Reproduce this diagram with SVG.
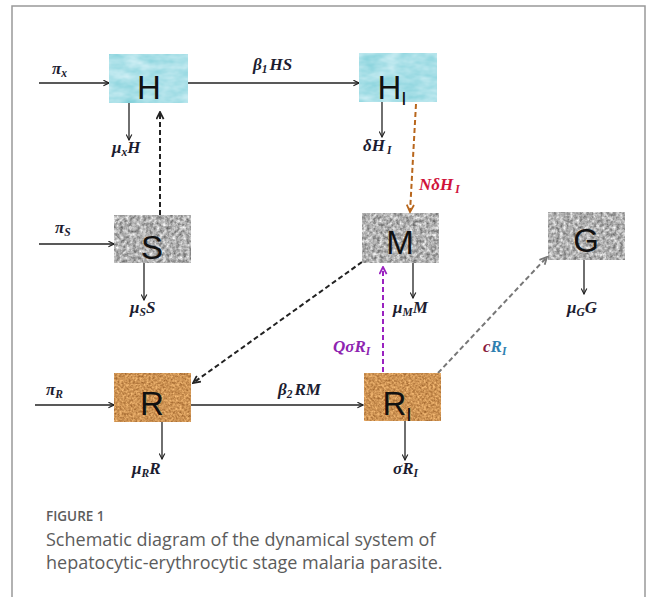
<svg xmlns="http://www.w3.org/2000/svg" width="656" height="597" viewBox="0 0 656 597">
<defs>
<style>
.box-lbl{font-family:"Liberation Sans",Arial,sans-serif;font-size:33px;fill:#111}
.sub-lbl{font-size:19px}
.m{font-family:"Liberation Serif","Times New Roman",serif;font-style:italic;font-weight:bold;font-size:17px;fill:#1c1c30}
.s{font-size:11.5px}
.ln{stroke:#222;stroke-width:1.3;fill:none;marker-end:url(#ah)}
.dk{stroke:#222;stroke-width:2;stroke-dasharray:5,3;fill:none;marker-end:url(#ahd)}
.cap{font-family:"Open Sans","Liberation Sans",sans-serif;fill:#5c5c5c}
</style>
<marker id="ah" viewBox="0 0 10 10" refX="9" refY="5" markerWidth="7" markerHeight="7" markerUnits="userSpaceOnUse" orient="auto"><path d="M1,1 L9,5 L1,9" fill="none" stroke="#222" stroke-width="1.6"/></marker>
<marker id="ahd" viewBox="0 0 10 10" refX="9" refY="5" markerWidth="9" markerHeight="9" markerUnits="userSpaceOnUse" orient="auto"><path d="M1,1 L9,5 L1,9" fill="none" stroke="#222" stroke-width="2"/></marker>
<marker id="aho" viewBox="0 0 10 10" refX="9" refY="5" markerWidth="9" markerHeight="9" markerUnits="userSpaceOnUse" orient="auto"><path d="M1,1 L9,5 L1,9" fill="none" stroke="#b8661c" stroke-width="2"/></marker>
<marker id="ahp" viewBox="0 0 10 10" refX="9" refY="5" markerWidth="9" markerHeight="9" markerUnits="userSpaceOnUse" orient="auto"><path d="M1,1 L9,5 L1,9" fill="none" stroke="#9a22c0" stroke-width="2"/></marker>
<marker id="ahg" viewBox="0 0 10 10" refX="9" refY="5" markerWidth="9" markerHeight="9" markerUnits="userSpaceOnUse" orient="auto"><path d="M1,1 L9,5 L1,9" fill="none" stroke="#777" stroke-width="2"/></marker>
<filter id="granite" x="0" y="0" width="1" height="1" color-interpolation-filters="sRGB">
<feTurbulence type="fractalNoise" baseFrequency="0.3" numOctaves="3" seed="4" result="n"/>
<feColorMatrix in="n" type="matrix" values="0.8 0 0 0 0.29  0.8 0 0 0 0.29  0.8 0 0 0 0.29  0 0 0 0 1" result="c"/>
<feComposite in="c" in2="SourceGraphic" operator="in"/>
</filter>
<filter id="cork" x="0" y="0" width="1" height="1" color-interpolation-filters="sRGB">
<feTurbulence type="fractalNoise" baseFrequency="0.45" numOctaves="3" seed="7" result="n"/>
<feColorMatrix in="n" type="matrix" values="0.5 0 0 0 0.56  0.5 0 0 0 0.33  0.42 0 0 0 0.12  0 0 0 0 1" result="c"/>
<feComposite in="c" in2="SourceGraphic" operator="in"/>
</filter>
<filter id="ice" x="0" y="0" width="1" height="1" color-interpolation-filters="sRGB">
<feTurbulence type="fractalNoise" baseFrequency="0.05 0.1" numOctaves="3" seed="2" result="n"/>
<feColorMatrix in="n" type="matrix" values="0.4 0 0 0 0.47  0.16 0 0 0 0.8  0.14 0 0 0 0.84  0 0 0 0 1" result="c"/>
<feComposite in="c" in2="SourceGraphic" operator="in"/>
</filter>
</defs>
<rect x="0" y="0" width="656" height="597" fill="#fff"/>
<rect x="12" y="6" width="633" height="600" fill="none" stroke="#999" stroke-width="1.5"/>

<g id="connectors">
<line class="ln" x1="39" y1="83" x2="109" y2="83"/>
<line class="ln" x1="188" y1="83" x2="359" y2="83"/>
<line class="ln" x1="129" y1="103" x2="129" y2="140"/>
<line class="dk" x1="160" y1="215" x2="160" y2="112"/>
<line class="ln" x1="382" y1="102" x2="382" y2="137"/>
<line x1="416" y1="104" x2="410" y2="212" stroke="#b8661c" stroke-width="2" stroke-dasharray="5,3" marker-end="url(#aho)"/>
<line class="ln" x1="39" y1="244" x2="114" y2="244"/>
<line class="ln" x1="144" y1="263" x2="144" y2="300"/>
<line class="dk" x1="362" y1="262" x2="193" y2="383"/>
<line class="ln" x1="413" y1="263" x2="413" y2="298"/>
<line class="ln" x1="584" y1="260" x2="584" y2="294"/>
<line x1="383" y1="372" x2="383" y2="267" stroke="#9a22c0" stroke-width="2" stroke-dasharray="5,3" marker-end="url(#ahp)"/>
<line x1="438" y1="373" x2="547" y2="257" stroke="#777" stroke-width="2" stroke-dasharray="5,3" marker-end="url(#ahg)"/>
<line class="ln" x1="35" y1="405" x2="114" y2="405"/>
<line class="ln" x1="191" y1="405" x2="363" y2="405"/>
<line class="ln" x1="162" y1="422" x2="162" y2="459"/>
<line class="ln" x1="405" y1="421" x2="405" y2="460"/>
</g>

<g id="node-H">
<rect x="109" y="54" width="79" height="49" fill="#a0dce4" filter="url(#ice)"/>
<text class="box-lbl" x="149" y="99" text-anchor="middle">H</text>
</g>
<g id="node-HI">
<rect x="359" y="53" width="78" height="49" fill="#a0dce4" filter="url(#ice)"/>
<text class="box-lbl" x="392" y="99" text-anchor="middle">H<tspan class="sub-lbl" dy="6">I</tspan></text>
</g>
<g id="node-S">
<rect x="114" y="215" width="77" height="48" fill="#a0a0a0" filter="url(#granite)"/>
<text class="box-lbl" x="152" y="259" text-anchor="middle">S</text>
</g>
<g id="node-M">
<rect x="362" y="213" width="77" height="50" fill="#a0a0a0" filter="url(#granite)"/>
<text class="box-lbl" x="400" y="254" text-anchor="middle">M</text>
</g>
<g id="node-G">
<rect x="548" y="212" width="77" height="48" fill="#a0a0a0" filter="url(#granite)"/>
<text class="box-lbl" x="586" y="252" text-anchor="middle">G</text>
</g>
<g id="node-R">
<rect x="114" y="373" width="77" height="49" fill="#c58a4a" filter="url(#cork)"/>
<text class="box-lbl" x="152" y="415" text-anchor="middle">R</text>
</g>
<g id="node-RI">
<rect x="364" y="373" width="77" height="48" fill="#c58a4a" filter="url(#cork)"/>
<text class="box-lbl" x="397" y="415" text-anchor="middle">R<tspan class="sub-lbl" dy="6">I</tspan></text>
</g>

<g id="labels">
<text class="m" x="52" y="74">π<tspan class="s" dy="3">x</tspan></text>
<text class="m" x="253" y="70">β<tspan class="s" dy="3">1</tspan><tspan dx="2" dy="-3">HS</tspan></text>
<text class="m" x="112" y="153">μ<tspan class="s" dy="3">x</tspan><tspan dy="-3">H</tspan></text>
<text class="m" x="363" y="151">δH<tspan class="s" dx="2" dy="3">I</tspan></text>
<text class="m" x="419" y="190" style="fill:#d0123a">NδH<tspan class="s" dx="2" dy="3">I</tspan></text>
<text class="m" x="55" y="233">π<tspan class="s" dy="3">S</tspan></text>
<text class="m" x="130" y="313">μ<tspan class="s" dy="3">S</tspan><tspan dy="-3">S</tspan></text>
<text class="m" x="393" y="313">μ<tspan class="s" dy="3">M</tspan><tspan dy="-3">M</tspan></text>
<text class="m" x="567" y="313">μ<tspan class="s" dy="3">G</tspan><tspan dy="-3">G</tspan></text>
<text class="m" x="333" y="352" style="fill:#8e24b0">QσR<tspan class="s" dy="3">I</tspan></text>
<text class="m" x="483" y="352"><tspan style="fill:#8a1c3c">c</tspan><tspan style="fill:#2f7fb0">R</tspan><tspan class="s" dy="3" style="fill:#2f7fb0">I</tspan></text>
<text class="m" x="46" y="395">π<tspan class="s" dy="3">R</tspan></text>
<text class="m" x="278" y="395">β<tspan class="s" dy="3">2</tspan><tspan dx="2" dy="-3">RM</tspan></text>
<text class="m" x="132" y="474">μ<tspan class="s" dy="3">R</tspan><tspan dy="-3">R</tspan></text>
<text class="m" x="393" y="474">σR<tspan class="s" dy="3">I</tspan></text>
</g>

<g id="caption">
<text class="cap" x="46" y="521" font-size="13.5" font-weight="600">FIGURE 1</text>
<text class="cap" x="46" y="546" font-size="18">Schematic diagram of the dynamical system of</text>
<text class="cap" x="46" y="569" font-size="18">hepatocytic-erythrocytic stage malaria parasite.</text>
</g>
</svg>
